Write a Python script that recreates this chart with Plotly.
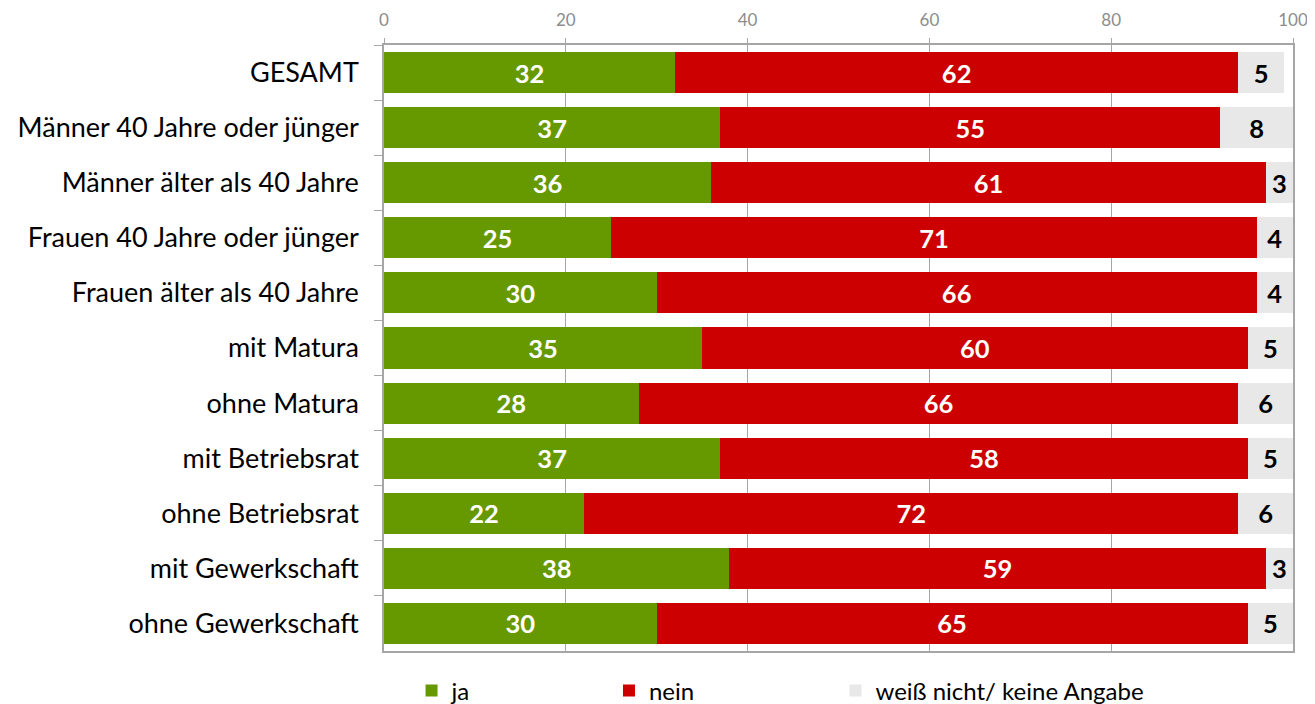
import plotly.graph_objects as go

categories = ["GESAMT", "Männer 40 Jahre oder jünger", "Männer älter als 40 Jahre",
              "Frauen 40 Jahre oder jünger", "Frauen älter als 40 Jahre", "mit Matura",
              "ohne Matura", "mit Betriebsrat", "ohne Betriebsrat", "mit Gewerkschaft",
              "ohne Gewerkschaft"]
ja = [32, 37, 36, 25, 30, 35, 28, 37, 22, 38, 30]
nein = [62, 55, 61, 71, 66, 60, 66, 58, 72, 59, 65]
weiss = [5, 8, 3, 4, 4, 5, 6, 5, 6, 3, 5]
x_ticks = [0, 20, 40, 60, 80, 100]

FONT = "Lato"
series = [
    ("ja", ja, "#669900", "white", "legend", 0.0303),
    ("nein", nein, "#CC0000", "white", "legend2", 0.2475),
    ("weiß nicht/ keine Angabe", weiss, "#E8E8E8", "black", "legend3", 0.4967),
]

fig = go.Figure()
for name, vals, color, tcolor, leg, lx in series:
    fig.add_trace(go.Bar(
        y=categories, x=vals, name=name, orientation="h",
        marker=dict(color=color, line=dict(width=0)),
        text=[str(v) for v in vals], textposition="inside",
        insidetextanchor="middle",
        textfont=dict(family=FONT, size=25.5, color=tcolor, weight="bold"),
        legend=leg, hoverinfo="skip",
    ))

legend_common = dict(orientation="h", yanchor="middle", xanchor="left", y=-0.066,
                     font=dict(family=FONT, size=24, color="black"),
                     bgcolor="rgba(0,0,0,0)", itemwidth=30)
fig.update_layout(
    barmode="stack", bargap=0.255,
    # page body adds an 8px offset, so the figure is sized to fill the rest of the window
    width=1307, height=696,
    margin=dict(l=376, r=22, t=37, b=53, autoexpand=False),
    plot_bgcolor="white", paper_bgcolor="white",
    uniformtext=dict(minsize=25.5, mode="show"),
    legend=dict(x=series[0][5], **legend_common),
    legend2=dict(x=series[1][5], **legend_common),
    legend3=dict(x=series[2][5], **legend_common),
    xaxis=dict(range=[0, 100], side="top", tickvals=x_ticks,
               tickfont=dict(family=FONT, size=17, color="#8C8C8C"),
               showgrid=True, gridcolor="#A6A6A6", gridwidth=1.3,
               showline=True, linecolor="#A6A6A6", linewidth=1.5, mirror=True,
               ticks="outside", ticklen=5, tickcolor="#A6A6A6", zeroline=False,
               ticklabelstandoff=5, ticklabeloverflow="allow", fixedrange=True),
    yaxis=dict(categoryorder="array", categoryarray=categories, autorange="reversed",
               tickfont=dict(family=FONT, size=27, color="black"),
               showline=True, linecolor="#A6A6A6", linewidth=1.5, mirror=True,
               ticks="outside", tickson="boundaries", ticklen=8, tickcolor="#A6A6A6",
               ticklabelstandoff=18, showgrid=False),
    showlegend=True,
)
fig.write_html("out.html")
